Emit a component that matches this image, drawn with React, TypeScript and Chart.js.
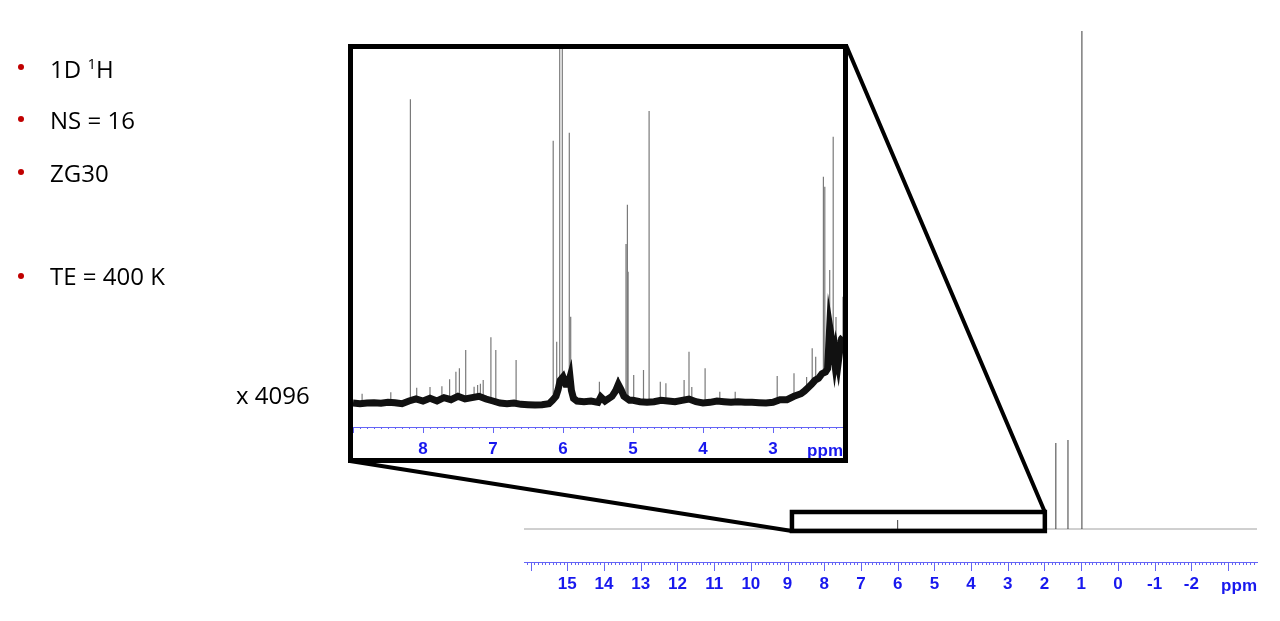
import React, { useEffect, useRef } from "react";
import { Chart, registerables } from "chart.js";

Chart.register(...registerables);

// ---------- Main spectrum (full range) ----------
const MAIN_PPM_MIN = -3.79;
const MAIN_PPM_MAX = 16.18;
const MAIN_TICKS = [16, 15, 14, 13, 12, 11, 10, 9, 8, 7, 6, 5, 4, 3, 2, 1, 0, -1, -2, -3];
const MAIN_TICK_LABELS = ["", "15", "14", "13", "12", "11", "10", "9", "8", "7", "6", "5", "4", "3", "2", "1", "0", "-1", "-2", ""];
const MAIN_PEAK_PPM = [6.0, 1.69, 1.36, 0.98];
const MAIN_PEAK_HEIGHT = [9, 86, 89, 498];
const MAIN_BASELINE_PPM = [16.18, -3.79];
const MAIN_BASELINE_VAL = [0, 0];
const ZOOM_BOX_PPM = [8.88, 1.99];
const ZOOM_BOX_VAL = [-2, 17];

// ---------- Inset (x 4096) ----------
const INSET_PPM_MIN = 2.0;
const INSET_PPM_MAX = 9.0;
const INSET_TICKS = [9, 8, 7, 6, 5, 4, 3, 2];
const INSET_TICK_LABELS = ["", "8", "7", "6", "5", "4", "3", ""];
const INSET_PEAK_PPM = [
  8.87, 8.46, 8.18, 8.09, 7.9, 7.73, 7.62, 7.53, 7.48, 7.39, 7.27, 7.22, 7.18, 7.14,
  7.03, 6.96, 6.67, 6.14, 6.09, 6.047, 6.01, 5.91, 5.89, 5.48, 5.21, 5.1, 5.08, 5.07,
  4.99, 4.85, 4.77, 4.61, 4.53, 4.27, 4.2, 4.16, 3.97, 3.76, 3.54, 2.94, 2.7, 2.52,
  2.44, 2.39, 2.28, 2.26, 2.19, 2.14, 2.1, 2.0,
];
const INSET_PEAK_TOP = [
  100, 104, 983, 118, 120, 122, 143, 166, 176, 231, 121, 126, 130, 141,
  269, 231, 201, 859, 256, 1200, 1200, 883, 331, 136, 150, 549, 667, 466,
  156, 171, 948, 136, 131, 141, 226, 120, 176, 106, 106, 153, 161, 150,
  236, 211, 751, 721, 471, 871, 330, 391,
];
const INSET_BASE_PPM = [
  9.0, 8.9, 8.8, 8.7, 8.6, 8.5, 8.4, 8.3, 8.2, 8.1, 8.0, 7.9, 7.8, 7.7, 7.6, 7.5, 7.4,
  7.3, 7.2, 7.1, 7.0, 6.9, 6.8, 6.7, 6.6, 6.5, 6.4, 6.3, 6.2, 6.15, 6.1, 6.07, 6.04,
  6.0, 5.96, 5.93, 5.9, 5.88, 5.85, 5.8, 5.7, 5.6, 5.5, 5.46, 5.4, 5.3, 5.25, 5.21,
  5.17, 5.13, 5.05, 5.0, 4.9, 4.8, 4.7, 4.6, 4.5, 4.4, 4.3, 4.2, 4.1, 4.0, 3.9, 3.8,
  3.7, 3.6, 3.5, 3.4, 3.3, 3.2, 3.1, 3.0, 2.9, 2.8, 2.7, 2.6, 2.55, 2.5, 2.45, 2.4,
  2.35, 2.3, 2.25, 2.22, 2.19, 2.16, 2.12, 2.1, 2.07, 2.04, 2.02, 2.0,
];
const INSET_BASE_VAL = [
  72, 70, 72, 73, 71, 74, 73, 70, 78, 84, 78, 86, 78, 88, 82, 92, 84,
  88, 92, 84, 78, 72, 70, 72, 68, 67, 66, 67, 70, 80, 92, 112, 140,
  150, 128, 128, 150, 110, 86, 78, 76, 78, 74, 90, 78, 92, 108, 128,
  112, 92, 80, 80, 76, 74, 76, 80, 78, 76, 80, 84, 76, 72, 74, 78,
  76, 74, 76, 74, 74, 73, 72, 74, 82, 82, 92, 100, 108, 118, 128, 140,
  146, 160, 165, 175, 300, 260, 195, 225, 190, 240, 265, 270,
];

// ---------- Layout ----------
const INSET_BOX = { left: 348, top: 44, width: 500, height: 419, border: 5 };
const LABEL_BLUE = "#1818ee";
const AXIS_BLUE = "#6464f5";
const TICK_FONT = { family: '"Liberation Sans", Arial, sans-serif', size: 17, weight: "bold" as const };

function nearestBase(p: number): number {
  let best = 0;
  let bd = Infinity;
  INSET_BASE_PPM.forEach((q, i) => {
    const d = Math.abs(q - p);
    if (d < bd) {
      bd = d;
      best = INSET_BASE_VAL[i];
    }
  });
  return best;
}

function sticks(ppm: number[], top: number[], base: (p: number) => number) {
  const out: { x: number; y: number | null }[] = [];
  ppm.forEach((p, i) => {
    out.push({ x: p, y: base(p) });
    out.push({ x: p, y: top[i] });
    out.push({ x: p, y: null });
  });
  return out;
}

// draws minor + major tick marks below the axis line and the "ppm" unit label
const nmrAxisPlugin = {
  id: "nmrAxis",
  afterDraw(chart: any, _args: any, opts: any) {
    const s = chart.scales.x;
    const ctx = chart.ctx;
    ctx.save();
    ctx.strokeStyle = AXIS_BLUE;
    ctx.lineWidth = 1;
    ctx.beginPath();
    const step = opts.minorStep;
    for (let i = Math.ceil(s.min / step - 1e-6); i * step <= s.max + 1e-6; i++) {
      const px = Math.round(s.getPixelForValue(i * step)) + 0.5;
      ctx.moveTo(px, s.top);
      ctx.lineTo(px, s.top + opts.minorLen);
    }
    s.ticks.forEach((t: any) => {
      const px = Math.round(s.getPixelForValue(t.value)) + 0.5;
      ctx.moveTo(px, s.top);
      ctx.lineTo(px, s.top + opts.majorLen);
    });
    ctx.stroke();
    ctx.fillStyle = LABEL_BLUE;
    ctx.font = `bold ${TICK_FONT.size}px ${TICK_FONT.family}`;
    ctx.textAlign = "right";
    ctx.textBaseline = "alphabetic";
    ctx.fillText(opts.unit, chart.chartArea.right, s.top + opts.unitOffset);
    ctx.restore();
  },
};

const zoomBoxPlugin = {
  id: "zoomBox",
  afterDraw(chart: any) {
    const { ctx, scales } = chart;
    const x = scales.x;
    const y = scales.y;
    const l = x.getPixelForValue(ZOOM_BOX_PPM[0]);
    const r = x.getPixelForValue(ZOOM_BOX_PPM[1]);
    const t = y.getPixelForValue(ZOOM_BOX_VAL[1]);
    const b = y.getPixelForValue(ZOOM_BOX_VAL[0]);
    ctx.save();
    ctx.strokeStyle = "#000";
    ctx.lineWidth = 4.5;
    ctx.strokeRect(l, t, r - l, b - t);
    ctx.lineWidth = 4;
    ctx.beginPath();
    ctx.moveTo(INSET_BOX.left + INSET_BOX.width - 2, INSET_BOX.top + 1);
    ctx.lineTo(r, t);
    ctx.moveTo(INSET_BOX.left + 2, INSET_BOX.top + INSET_BOX.height - 2);
    ctx.lineTo(l, b);
    ctx.stroke();
    ctx.restore();
  },
};

function xAxis(min: number, max: number, ticks: number[], labels: string[], labelGap: number, height: number) {
  return {
    type: "linear" as const,
    reverse: true,
    min,
    max,
    afterBuildTicks: (scale: any) => {
      scale.ticks = ticks.map((v) => ({ value: v }));
    },
    afterFit: (scale: any) => {
      scale.height = height;
    },
    grid: {
      display: true,
      drawOnChartArea: false,
      drawTicks: true,
      tickLength: labelGap,
      color: "rgba(0,0,0,0)",
      lineWidth: 1,
    },
    border: { display: true, color: AXIS_BLUE, width: 1 },
    ticks: {
      autoSkip: false,
      maxRotation: 0,
      minRotation: 0,
      padding: 0,
      color: LABEL_BLUE,
      font: TICK_FONT,
      callback: (_v: any, i: number) => labels[i] ?? "",
    },
  };
}

export default function App() {
  const mainRef = useRef<HTMLCanvasElement>(null);
  const insetRef = useRef<HTMLCanvasElement>(null);

  useEffect(() => {
    const main = new Chart(mainRef.current as HTMLCanvasElement, {
      type: "line",
      data: {
        datasets: [
          {
            data: sticks(MAIN_PEAK_PPM, MAIN_PEAK_HEIGHT, () => 0),
            borderColor: "#3c3c3c",
            borderWidth: 1,
            pointRadius: 0,
            spanGaps: false,
          },
          {
            data: MAIN_BASELINE_PPM.map((p, i) => ({ x: p, y: MAIN_BASELINE_VAL[i] })),
            borderColor: "#a0a0a0",
            borderWidth: 1,
            pointRadius: 0,
          },
        ],
      },
      options: {
        animation: false,
        responsive: false,
        devicePixelRatio: 1,
        layout: { autoPadding: false, padding: { left: 524, right: 23, top: 28, bottom: 0 } },
        plugins: {
          legend: { display: false },
          tooltip: { enabled: false },
          nmrAxis: { minorStep: 0.1, minorLen: 3, majorLen: 9, unit: "ppm", unitOffset: 28.5 },
        } as any,
        scales: {
          x: xAxis(MAIN_PPM_MIN, MAIN_PPM_MAX, MAIN_TICKS, MAIN_TICK_LABELS, 12, 59),
          y: { display: false, min: -33, max: 501 },
        },
      } as any,
      plugins: [nmrAxisPlugin, zoomBoxPlugin],
    });

    const baseData = INSET_BASE_PPM.map((p, i) => ({ x: p, y: INSET_BASE_VAL[i] }));
    const inset = new Chart(insetRef.current as HTMLCanvasElement, {
      type: "line",
      data: {
        datasets: [
          {
            data: baseData,
            borderColor: "#111111",
            borderWidth: 7,
            pointRadius: 0,
            borderJoinStyle: "miter",
          },
          {
            data: sticks(INSET_PEAK_PPM, INSET_PEAK_TOP, nearestBase),
            borderColor: "#7a7a7a",
            borderWidth: 1.2,
            pointRadius: 0,
            spanGaps: false,
          },
        ],
      },
      options: {
        animation: false,
        responsive: false,
        devicePixelRatio: 1,
        layout: { autoPadding: false, padding: 0 },
        plugins: {
          legend: { display: false },
          tooltip: { enabled: false },
          nmrAxis: { minorStep: 0.1, minorLen: 2, majorLen: 6, unit: "ppm", unitOffset: 28.5 },
        } as any,
        scales: {
          x: xAxis(INSET_PPM_MIN, INSET_PPM_MAX, INSET_TICKS, INSET_TICK_LABELS, 12, 31),
          y: { display: false, min: 0, max: 1134 },
        },
      } as any,
      plugins: [nmrAxisPlugin],
    });

    return () => {
      main.destroy();
      inset.destroy();
    };
  }, []);

  const textStyle = (top: number, left: number): React.CSSProperties => ({
    position: "absolute",
    left,
    top,
    fontSize: 24,
    lineHeight: "normal",
    color: "#000",
    whiteSpace: "nowrap",
  });
  const bullet = (cy: number): React.CSSProperties => ({
    position: "absolute",
    left: 18,
    top: cy - 3,
    width: 6,
    height: 6,
    borderRadius: "50%",
    background: "#c00000",
  });

  return (
    <div
      style={{
        position: "fixed",
        left: 0,
        top: 0,
        width: 1280,
        height: 621,
        background: "#fff",
        overflow: "hidden",
        fontFamily: '"Open Sans", sans-serif',
      }}
    >
      <canvas ref={mainRef} width={1280} height={621} style={{ position: "absolute", left: 0, top: 0, width: 1280, height: 621 }} />
      <div
        style={{
          position: "absolute",
          left: INSET_BOX.left,
          top: INSET_BOX.top,
          width: INSET_BOX.width,
          height: INSET_BOX.height,
          border: `${INSET_BOX.border}px solid #000`,
          boxSizing: "border-box",
          background: "#fff",
        }}
      >
        <canvas
          ref={insetRef}
          width={INSET_BOX.width - 2 * INSET_BOX.border}
          height={INSET_BOX.height - 2 * INSET_BOX.border}
          style={{ display: "block", width: INSET_BOX.width - 2 * INSET_BOX.border, height: INSET_BOX.height - 2 * INSET_BOX.border }}
        />
      </div>
      <div style={bullet(67)} />
      <div style={textStyle(52, 50)}>
        1D <span style={{ fontSize: 15, verticalAlign: 9 }}>1</span>H
      </div>
      <div style={bullet(119)} />
      <div style={textStyle(103, 50)}>NS = 16</div>
      <div style={bullet(172)} />
      <div style={textStyle(156, 50)}>ZG30</div>
      <div style={bullet(276)} />
      <div style={textStyle(259, 50)}>TE = 400 K</div>
      <div style={textStyle(378, 236)}>x 4096</div>
    </div>
  );
}
